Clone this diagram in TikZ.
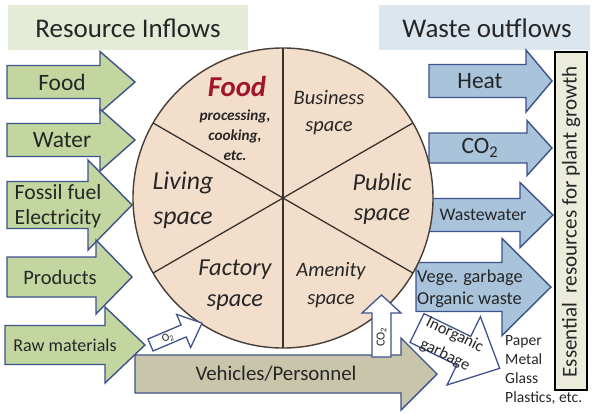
\documentclass[tikz,border=0pt]{standalone}
\usepackage{fontspec}
\setmainfont{Carlito}
\usetikzlibrary{shapes.geometric}
\definecolor{InGreen}{RGB}{196,214,160}
\definecolor{InGreenLight}{RGB}{228,236,216}
\definecolor{OutBlue}{RGB}{168,195,218}
\definecolor{OutBlueLight}{RGB}{220,230,239}
\definecolor{PieFill}{RGB}{243,222,204}
\definecolor{PieEdge}{RGB}{70,62,55}
\definecolor{EdgeBlue}{RGB}{62,82,140}
\definecolor{TrafficKhaki}{RGB}{201,197,170}
\definecolor{PlantCream}{RGB}{236,236,220}
\definecolor{FoodRed}{RGB}{160,22,40}
\definecolor{TextGray}{RGB}{38,38,38}
% block arrow: style, tail x, head x, tip x, mid y, body half, head half
\newcommand{\blockarrow}[7]{%
  \filldraw[#1] (#2,#5-#6) -- (#3,#5-#6) -- (#3,#5-#7) -- (#4,#5)
    -- (#3,#5+#7) -- (#3,#5+#6) -- (#2,#5+#6) -- cycle;}
\newcommand{\fsz}[2]{\fontsize{#1}{#2}\selectfont}
\tikzset{
  inarrow/.style={draw=EdgeBlue,fill=InGreen,line width=1.2pt},
  outarrow/.style={draw=EdgeBlue,fill=OutBlue,line width=1.2pt},
  gasarrow/.style={draw=EdgeBlue,fill=white,line width=1.1pt},
  trafficarrow/.style={draw=EdgeBlue,fill=TrafficKhaki,line width=1.2pt},
  arrowtext/.style={text=TextGray,align=center,inner sep=0pt},
  spacetext/.style={text=TextGray,align=center,inner sep=0pt},
  divider/.style={draw=PieEdge!80!black,line width=1.1pt},
}

\begin{document}
\begin{tikzpicture}[x=0.03cm,y=-0.03cm]
\useasboundingbox (0,0) rectangle (594,414);

% headings
\fill[InGreenLight] (8,5) rectangle (248,50);
\fill[OutBlueLight] (379,5) rectangle (590,50);
\node[arrowtext,font=\fsz{23}{26}] (inflows) at (128,28) {Resource Inflows};
\node[arrowtext,font=\fsz{23}{26}] (outflows) at (487,28) {Waste outflows};

% inflows
\blockarrow{inarrow}{7}{100}{135}{82}{16.5}{30.5}
\blockarrow{inarrow}{7}{100}{135}{140}{16.5}{31}
\blockarrow{inarrow}{7}{88}{132}{205}{23.5}{45}
\blockarrow{inarrow}{7}{96}{132}{277}{20}{37}
\blockarrow{inarrow}{5}{105}{145}{345}{19.5}{38}
\node[arrowtext,font=\fsz{20}{22}] (food) at (62,82) {Food};
\node[arrowtext,font=\fsz{20}{22}] (water) at (62,140) {Water};
\node[arrowtext,font=\fsz{18.5}{21}] (fossil) at (58,206) {Fossil fuel\\Electricity};
\node[arrowtext,font=\fsz{17.5}{20}] (products) at (60,277) {Products};
\node[arrowtext,font=\fsz{15.4}{18}] (raw) at (65,345) {Raw materials};

% outflows
\blockarrow{outarrow}{429}{526}{552}{81}{16.5}{31}
\blockarrow{outarrow}{429}{527}{552}{148}{15}{27.5}
\blockarrow{outarrow}{428}{520}{553}{215}{16.5}{32.5}
\blockarrow{outarrow}{416}{502}{551}{287}{24.5}{48.5}
\node[arrowtext,font=\fsz{20}{22}] (heat) at (480,81) {Heat};
\node[arrowtext,font=\fsz{20}{22}] (cotwo) at (480,148) {CO\textsubscript{2}};
\node[arrowtext,font=\fsz{15.2}{18}] (wastewater) at (483,215) {Wastewater};
\node[arrowtext,font=\fsz{15.6}{19},align=left,anchor=west] (vege) at (417,289) {Vege. garbage\\Organic waste};

% city pie
\node[circle,draw=PieEdge,fill=PieFill,line width=1.2pt,minimum size=9cm,
  inner sep=0pt,outer sep=0pt] (pie) at (283,198) {};
\draw[divider] (pie.90) -- (pie.270);
\draw[divider] (pie.30) -- (pie.210);
\draw[divider] (pie.150) -- (pie.330);
\node[spacetext,text=FoodRed,font=\bfseries\itshape\fsz{24.6}{26}] (foodspace) at (237,86) {Food};
\node[spacetext,font=\bfseries\itshape\fsz{13}{17}] (foodnote) at (235,135) {processing,\\cooking,\\etc.};
\node[spacetext,font=\itshape\fsz{17.5}{23}] (business) at (329,113) {Business\\space};
\node[spacetext,font=\itshape\fsz{22}{30}] (living) at (183,200) {Living\\space};
\node[spacetext,font=\itshape\fsz{20.8}{25}] (public) at (382,199) {Public\\space};
\node[spacetext,font=\itshape\fsz{20.8}{26}] (factory) at (235,285) {Factory\\space};
\node[spacetext,font=\itshape\fsz{17.5}{24}] (amenity) at (331,285) {Amenity\\space};

% traffic
\blockarrow{trafficarrow}{135}{401}{437}{374}{19}{36}
\node[arrowtext,font=\fsz{17.8}{20}] (vehicles) at (276,374) {Vehicles/Personnel};

% gases and garbage
\begin{scope}[shift={(150.5,345)},rotate=23]
  \blockarrow{gasarrow}{0}{36}{56}{0}{6.5}{18}
  \node[arrowtext,font=\fsz{9.5}{10},rotate=23] (otwo) at (19,0) {O\textsubscript{2}};
\end{scope}
\begin{scope}[shift={(381.5,357)},rotate=90]
  \blockarrow{gasarrow}{0}{44}{62}{0}{9.5}{19.5}
  \node[arrowtext,font=\fsz{10.5}{11},rotate=90] (cotwoup) at (20,0) {CO\textsubscript{2}};
\end{scope}
\begin{scope}[shift={(417,328)},rotate=-26]
  \blockarrow{gasarrow}{0}{52}{92}{0}{16}{38}
  \node[arrowtext,font=\fsz{14}{19},rotate=-26] (inorganic) at (37,1) {Inorganic\\garbage};
\end{scope}
\node[arrowtext,font=\fsz{13.3}{16.4},align=left,anchor=north west] (recycle) at (505,335) {Paper\\Metal\\Glass\\Plastics, etc.};

% plant growth
\draw[fill=PlantCream,line width=1.2pt] (555,52) rectangle (587,390);
\node[arrowtext,font=\fsz{18}{20},rotate=90] (plant) at (571,222) {Essential\hspace{0.45em}resources for plant growth};
\end{tikzpicture}
\end{document}
